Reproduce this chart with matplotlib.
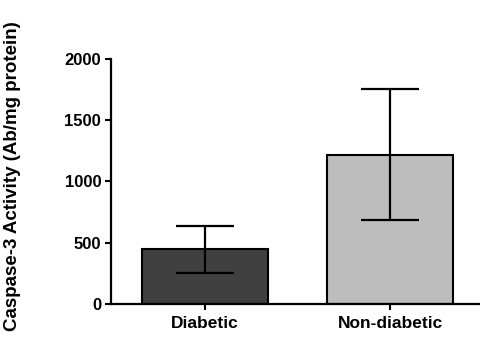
import matplotlib
matplotlib.use("Agg")
import matplotlib.pyplot as plt

groups = ["Diabetic", "Non-diabetic"]
activity = [445, 1220]
sem = [190, 535]
colors = ["#404040", "#bdbdbd"]

plt.rcParams["font.family"] = ["Liberation Sans", "DejaVu Sans"]
plt.rcParams["font.weight"] = "bold"

fig = plt.figure(figsize=(4.8, 3.47), dpi=100)
ax = fig.add_axes([0.231, 0.124, 0.769, 0.706])

x = list(range(len(groups)))
ax.bar(x, activity, width=0.68, color=colors, edgecolor="black", linewidth=1.5,
       yerr=sem, capsize=21, error_kw=dict(elinewidth=1.6, capthick=1.6, ecolor="black"),
       zorder=2)

ax.set_xlim(-0.508, 1.486)
ax.set_ylim(0, 2000)
ax.set_yticks([0, 500, 1000, 1500, 2000])
ax.set_xticks(x)
ax.set_xticklabels(groups, fontsize=12.5, fontweight="bold")
ax.tick_params(axis="y", labelsize=12, width=1.5, length=4, direction="out", pad=3)
ax.tick_params(axis="x", width=1.5, length=4, direction="out", pad=5)
for lbl in ax.get_yticklabels():
    lbl.set_fontweight("bold")

ax.spines["top"].set_visible(False)
ax.spines["right"].set_visible(False)
ax.spines["left"].set_linewidth(1.6)
ax.spines["bottom"].set_linewidth(1.6)

ax.set_ylabel("Caspase-3 Activity (Ab/mg protein)", fontsize=13.5, fontweight="bold")
ax.yaxis.set_label_coords(-0.243, 0.52)

fig.savefig("out.png", dpi=100)
